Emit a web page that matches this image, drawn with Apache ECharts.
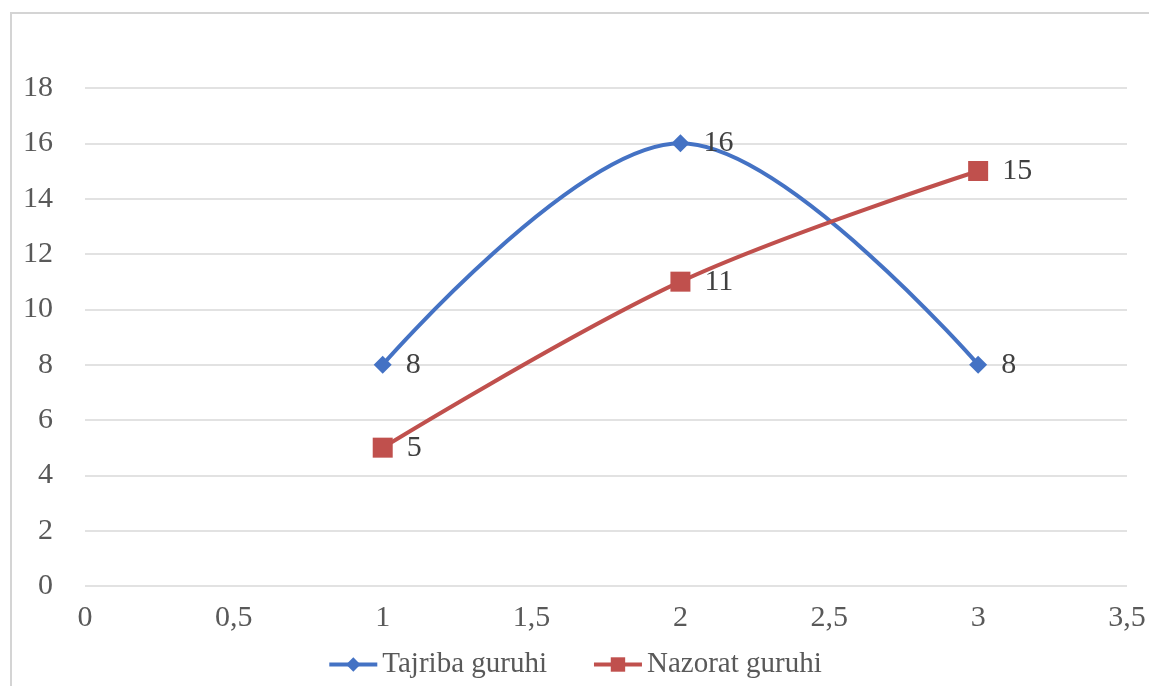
<!DOCTYPE html>
<html>
<head>
<meta charset="utf-8">
<script src="https://cdn.jsdelivr.net/npm/echarts@6/dist/echarts.min.js"></script>
<style>
  html, body { margin: 0; padding: 0; background: #fff; }
  #chart { width: 1149px; height: 686px; }
</style>
</head>
<body>
<div id="chart"></div>
<script>
// x qiymatlari va seriyalar
var xValues = [1, 2, 3];
var tajribaValues = [8, 16, 8];
var nazoratValues = [5, 11, 15];
var seriesNames = ['Tajriba guruhi', 'Nazorat guruhi'];

function pairs(xs, ys) {
    var out = [];
    for (var i = 0; i < xs.length; i++) {
        out.push([xs[i], ys[i]]);
    }
    return out;
}

var font = '"Liberation Serif", "Times New Roman", serif';
var myChart = echarts.init(document.getElementById('chart'));

var option = {
    backgroundColor: '#fff',
    animation: false,
    // chegaradagi kulrang ramka
    graphic: [{
        type: 'rect',
        shape: { x: 11, y: 13, width: 1200, height: 700 },
        style: { fill: 'none', stroke: '#d4d4d4', lineWidth: 2 },
        silent: true
    }],
    grid: {
        left: 85,
        right: 22,
        top: 88,
        bottom: 100
    },
    legend: {
        bottom: 2,
        left: 'center',
        itemWidth: 48,
        itemHeight: 18,
        itemGap: 45,
        lineStyle: { width: 4 },
        textStyle: { fontFamily: font, fontSize: 29, color: '#595959' },
        data: seriesNames
    },
    xAxis: {
        type: 'value',
        min: 0,
        max: 3.5,
        interval: 0.5,
        axisLine: { show: false },
        axisTick: { show: false },
        splitLine: { show: false },
        axisLabel: {
            margin: 17,
            fontFamily: font,
            fontSize: 30,
            color: '#595959',
            formatter: function (v) { return String(v).replace('.', ','); }
        }
    },
    yAxis: {
        type: 'value',
        min: 0,
        max: 18,
        interval: 2,
        axisLine: { show: false },
        axisTick: { show: false },
        splitLine: { lineStyle: { color: '#d9d9d9', width: 1.5 } },
        axisLabel: {
            margin: 32,
            fontFamily: font,
            fontSize: 30,
            color: '#595959'
        }
    },
    series: [
        {
            name: seriesNames[0],
            type: 'line',
            smooth: 0.35,
            symbol: 'diamond',
            symbolSize: 18,
            data: pairs(xValues, tajribaValues),
            itemStyle: { color: '#4472c4' },
            lineStyle: { color: '#4472c4', width: 4 },
            label: {
                show: true,
                position: 'right',
                distance: 14,
                fontFamily: font,
                fontSize: 30,
                color: '#404040'
            }
        },
        {
            name: seriesNames[1],
            type: 'line',
            smooth: 0.35,
            symbol: 'rect',
            symbolSize: 20,
            data: pairs(xValues, nazoratValues),
            itemStyle: { color: '#c0504d' },
            lineStyle: { color: '#c0504d', width: 4 },
            label: {
                show: true,
                position: 'right',
                distance: 14,
                fontFamily: font,
                fontSize: 30,
                color: '#404040'
            }
        }
    ]
};

myChart.setOption(option);
</script>
</body>
</html>
